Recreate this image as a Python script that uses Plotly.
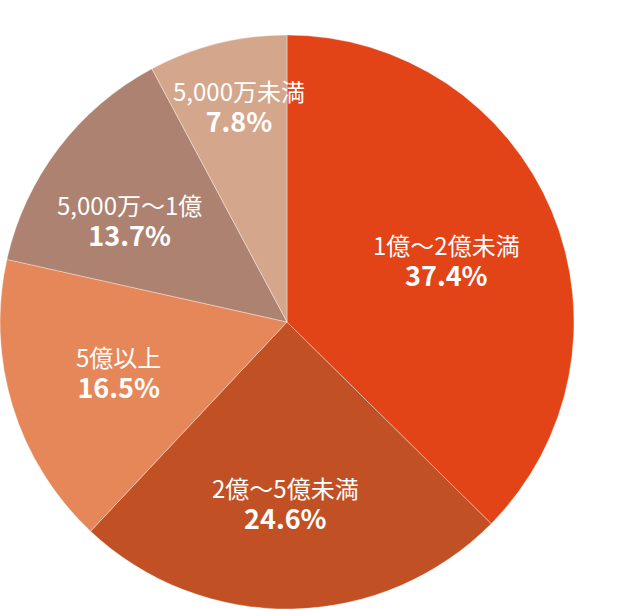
import math
import plotly.graph_objects as go

categories = ["1億～2億未満", "2億～5億未満", "5億以上", "5,000万～1億", "5,000万未満"]
values = [37.4, 24.6, 16.5, 13.7, 7.8]
pct_labels = ["37.4%", "24.6%", "16.5%", "13.7%", "7.8%"]

colors = ["#E24317", "#C15124", "#E6875A", "#AE8270", "#D4A78D"]
# style: label placement relative to each slice's mid-angle
label_radius = [0.595, 0.634, 0.611, 0.652, 0.768]
label_angle_offset = [1.4, 1.7, 0.5, -4.3, 1.4]

W, H = 618, 610
cx, cy, R = 287, 322, 287  # pixel centre / radius of the pie

fig = go.Figure(go.Pie(
    labels=categories,
    values=values,
    sort=False,
    direction="clockwise",
    rotation=0,
    textinfo="none",
    hoverinfo="label+percent",
    marker=dict(colors=colors, line=dict(color="rgba(255,255,255,0.45)", width=0.8)),
    domain=dict(x=[(cx - R) / W, (cx + R) / W], y=[1 - (cy + R) / H, 1 - (cy - R) / H]),
    showlegend=False,
))

total = sum(values)
cum = 0.0
annotations = []
for name, v, pct, rf, da in zip(categories, values, pct_labels, label_radius, label_angle_offset):
    mid = (cum + v / 2) / total * 2 * math.pi + math.radians(da)
    cum += v
    px = cx + rf * R * math.sin(mid)
    py = cy - rf * R * math.cos(mid)
    x = px / W
    y = 1 - py / H
    text = name + "<br><b><span style='font-size:27px'>" + pct + "</span></b>"
    annotations.append(dict(x=x, y=y, xref="paper", yref="paper", text=text,
                            showarrow=False, xanchor="center", yanchor="middle",
                            align="center",
                            font=dict(family="Noto Sans CJK JP", size=24, color="white")))

fig.update_layout(
    width=W, height=H,
    margin=dict(l=0, r=0, t=0, b=0),
    paper_bgcolor="white",
    plot_bgcolor="white",
    annotations=annotations,
)

fig.write_html("out.html", config={"displayModeBar": False},
               post_script="document.body.style.margin='0';")
